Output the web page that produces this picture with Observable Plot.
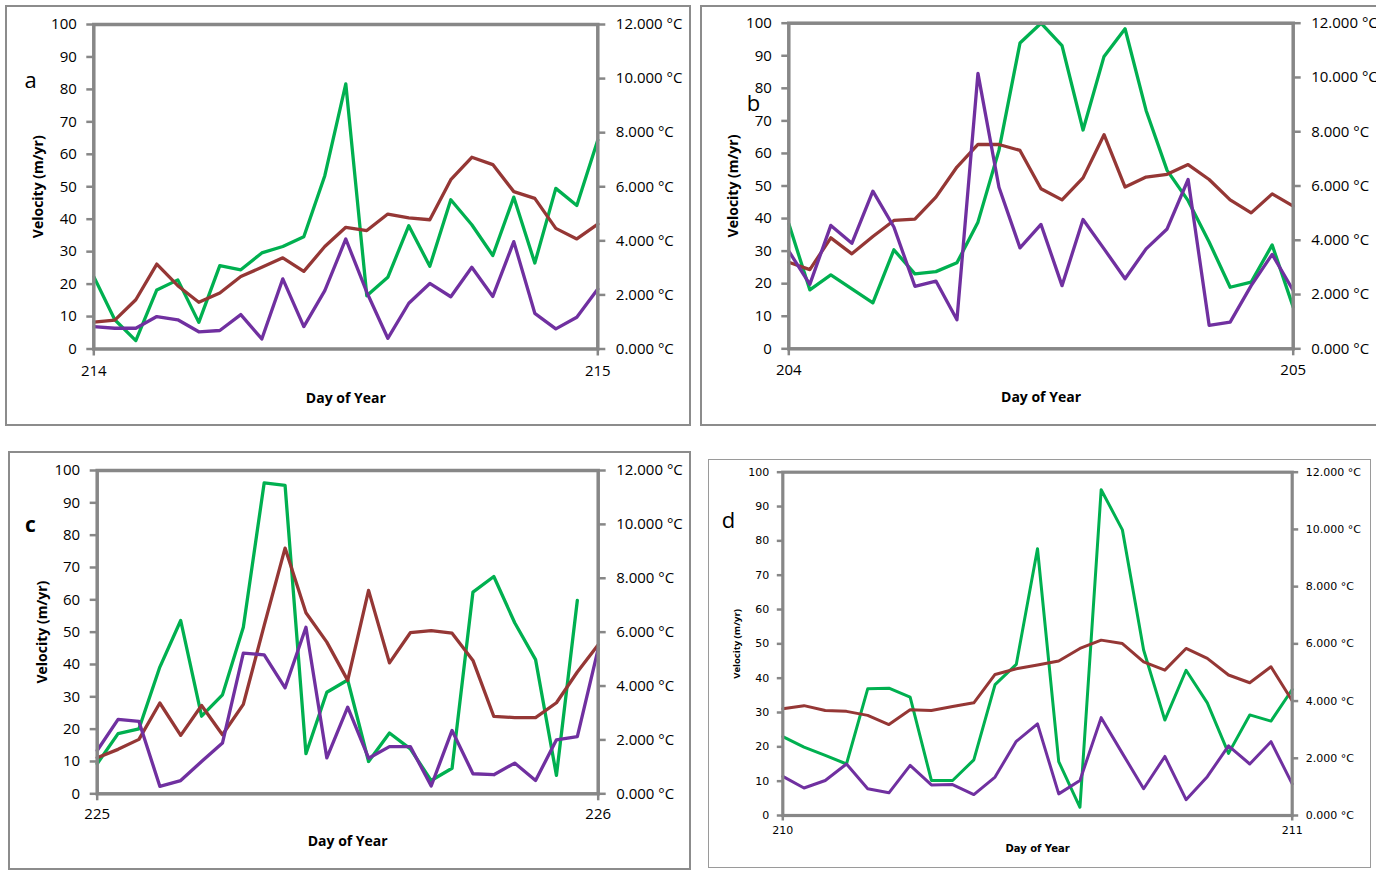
<!DOCTYPE html>
<html><head><meta charset="utf-8">
<script src="https://cdn.jsdelivr.net/npm/d3@7"></script>
<script src="https://cdn.jsdelivr.net/npm/@observablehq/plot@0.6"></script>
<style>
html,body{margin:0;padding:0;background:#fff;overflow:hidden;}
#page{position:relative;width:1376px;height:874px;overflow:hidden;background:#fff;}
.box{position:absolute;box-sizing:border-box;}
.plot{position:absolute;}
.plot svg{overflow:visible;max-width:none !important;}
</style></head><body><div id="page"></div>
<script>
// ---------- DATA ----------
// hourly samples across one day (hour 0..24)
const hours = d3.range(0, 25);
const panelLetters = ["a", "b", "c", "d"];
const startDays = [214, 204, 225, 210];
const velocityTicks = [0, 10, 20, 30, 40, 50, 60, 70, 80, 90, 100];
const tempTicks = [0, 2, 4, 6, 8, 10, 12]; // °C on right axis
const xLabel = "Day of Year";
const yLabel = "Velocity (m/yr)";

// panel a (day 214)
const greenA  = [22.3, 9, 2.6, 18.2, 21.3, 8.2, 25.7, 24.4, 29.6, 31.6, 34.6, 53.4, 81.7, 16.4, 22.1, 38.0, 25.5, 46.0, 38.3, 28.8, 46.8, 26.5, 49.5, 44.2, 64.4];
const purpleA = [6.9, 6.4, 6.4, 10.0, 9.0, 5.3, 5.7, 10.6, 3.1, 21.6, 6.9, 18.0, 33.9, 17.5, 3.3, 14.1, 20.2, 16.1, 25.2, 16.2, 33.1, 11.0, 6.2, 9.8, 18.5];
const tempA   = [0.99, 1.07, 1.82, 3.14, 2.34, 1.73, 2.07, 2.68, 3.02, 3.37, 2.87, 3.79, 4.50, 4.38, 4.99, 4.85, 4.78, 6.26, 7.09, 6.82, 5.82, 5.57, 4.46, 4.07, 4.62];

// panel b (day 204)
const greenB  = [38.4, 18.1, 22.7, 18.4, 14.1, 30.4, 23.0, 23.7, 26.4, 38.9, 61, 93.9, 100, 93.1, 67.2, 89.8, 98.3, 73.2, 54.8, 45.5, 32.8, 18.9, 20.5, 31.9, 12.8];
const purpleB = [30.0, 19.8, 37.9, 32.4, 48.4, 37.4, 19.2, 20.8, 8.9, 84.6, 49.6, 31.0, 38.2, 19.4, 39.7, 30.7, 21.5, 30.7, 36.8, 52.0, 7.2, 8.2, 19.4, 29.0, 17.9];
const tempB   = [3.19, 2.92, 4.09, 3.50, 4.14, 4.73, 4.78, 5.59, 6.70, 7.53, 7.53, 7.31, 5.90, 5.49, 6.30, 7.89, 5.96, 6.33, 6.43, 6.79, 6.24, 5.49, 5.01, 5.71, 5.26];

// panel c (day 225)
const greenC  = [9.3, 18.6, 20.1, 39.2, 53.6, 24.0, 30.6, 51.5, 96.2, 95.4, 12.4, 31.4, 35.2, 10.0, 18.8, 13.9, 4.1, 7.9, 62.4, 67.2, 52.9, 41.5, 5.7, 59.8, null];
const purpleC = [13.4, 23.0, 22.4, 2.3, 4.1, 10.0, 15.7, 43.5, 43.0, 32.8, 51.5, 11.1, 26.8, 11.0, 14.6, 14.6, 2.4, 19.6, 6.2, 5.9, 9.5, 4.1, 16.7, 17.7, 44.8];
const tempC   = [1.34, 1.65, 2.02, 3.37, 2.17, 3.28, 2.19, 3.32, 6.25, 9.12, 6.72, 5.63, 4.21, 7.55, 4.86, 5.98, 6.06, 5.96, 4.95, 2.87, 2.83, 2.83, 3.38, 4.52, 5.53];

// panel d (day 210)
const greenD  = [23.0, 19.9, 17.5, 15.0, 36.9, 37.1, 34.5, 10.2, 10.2, 16.2, 38.1, 44.0, 77.7, 15.7, 2.4, 94.9, 83.2, 48.2, 27.8, 42.3, 32.8, 18.1, 29.3, 27.5, 36.7];
const purpleD = [11.4, 8.0, 10.2, 15.0, 7.8, 6.6, 14.6, 8.9, 9.0, 6.1, 11.2, 21.6, 26.7, 6.3, 10.2, 28.5, 18.1, 7.8, 17.2, 4.6, 11.3, 20.3, 15.0, 21.5, 9.2];
const tempD   = [3.73, 3.84, 3.67, 3.64, 3.50, 3.18, 3.70, 3.67, 3.81, 3.94, 4.93, 5.13, 5.26, 5.40, 5.84, 6.13, 6.01, 5.37, 5.08, 5.84, 5.49, 4.91, 4.64, 5.20, 4.01];

const greens = [greenA, greenB, greenC, greenD];
const purples = [purpleA, purpleB, purpleC, purpleD];
const temps = [tempA, tempB, tempC, tempD];

// ---------- LAYOUT (page px) ----------
const layouts = [
  {box: [5, 5, 686, 421], bw: 2, bc: "#8c8c8c", px: [93.3, 597.3], py: [24, 348.5],
   font: "'Open Sans', sans-serif", fs: 15, lfs: 14, lfont: "'Open Sans', sans-serif",
   letter: [30, 80], lsize: 22, lweight: "normal", vx: 38, dayY: 398, xLabY: 373, tick: 7, lw: 3.3, fw: 3.5},
  {box: [700, 5, 690, 421], bw: 2, bc: "#8c8c8c", px: [788.3, 1292.7], py: [22.7, 348.3],
   font: "'Open Sans', sans-serif", fs: 15, lfs: 14, lfont: "'Open Sans', sans-serif",
   letter: [753, 103], lsize: 22, lweight: "normal", vx: 733, dayY: 397, xLabY: 372, tick: 7, lw: 3.3, fw: 3.5},
  {box: [8, 451, 683, 419], bw: 2, bc: "#8c8c8c", px: [96.7, 597.7], py: [470, 793.3],
   font: "'Open Sans', sans-serif", fs: 15, lfs: 14, lfont: "'Open Sans', sans-serif",
   letter: [30, 525], lsize: 21, lweight: "bold", vx: 42, dayY: 841.5, xLabY: 815.7, tick: 7, lw: 3.3, fw: 3.5},
  {box: [708, 459, 663, 409], bw: 1.5, bc: "#9a9a9a", px: [782.3, 1291.7], py: [471.7, 815],
   font: "'DejaVu Sans', sans-serif", fs: 11, lfs: 10, lfont: "'DejaVu Sans', sans-serif",
   letter: [728, 520], lsize: 22, lweight: "normal", vx: 736, dayY: 848.5, xLabY: 831.5, tick: 5.5, lw: 3, fw: 3.2}
];

const page = document.getElementById("page");
const axisGrey = "#878787";

panelLetters.forEach((letter, k) => {
  const L = layouts[k];
  const [bx, by, bw, bh] = L.box;
  const box = document.createElement("div");
  box.className = "box";
  Object.assign(box.style, {left: bx + "px", top: by + "px", width: bw + "px", height: bh + "px",
    border: L.bw + "px solid " + L.bc});
  page.appendChild(box);

  const day0 = startDays[k];
  const green = greens[k], purple = purples[k], temp = temps[k];
  const ml = L.px[0] - bx, mr = bw - (L.px[1] - bx), mt = L.py[0] - by, mb = bh - (L.py[1] - by);
  const toY = t => t * 100 / 12;
  const fromY = v => v * 12 / 100;

  const chart = Plot.plot({
    width: bw, height: bh,
    marginLeft: ml, marginRight: mr, marginTop: mt, marginBottom: mb,
    x: {domain: [day0, day0 + 1]},
    y: {domain: [0, 100]},
    style: {fontFamily: L.font, fontSize: L.fs + "px", background: "transparent", color: "#000", maxWidth: "none"},
    marks: [
      Plot.line(hours, {x: h => day0 + h / 24, y: (h, i) => green[i], stroke: "#00b050", strokeWidth: L.lw, strokeLinejoin: "round"}),
      Plot.line(hours, {x: h => day0 + h / 24, y: (h, i) => toY(temp[i]), stroke: "#953735", strokeWidth: L.lw, strokeLinejoin: "round"}),
      Plot.line(hours, {x: h => day0 + h / 24, y: (h, i) => purple[i], stroke: "#7030a0", strokeWidth: L.lw, strokeLinejoin: "round"}),
      Plot.frame({stroke: axisGrey, strokeWidth: L.fw}),
      Plot.axisY({ticks: velocityTicks, tickFormat: d => String(d), tickSize: L.tick, tickPadding: k === 3 ? 8 : 10,
        stroke: axisGrey, strokeWidth: 2.5, label: null, fontSize: L.fs}),
      Plot.axisY({anchor: "right", ticks: tempTicks.map(toY), tickFormat: d => fromY(d).toFixed(3) + " °C",
        tickSize: L.tick, tickPadding: k === 3 ? 8 : 11, stroke: axisGrey, strokeWidth: 2.5, label: null, fontSize: L.fs}),
      Plot.axisX({ticks: [day0, day0 + 1], tickFormat: d => String(d), tickSize: L.tick,
        tickPadding: (L.xLabY - L.py[1]) - L.tick - L.fs * 0.55, stroke: axisGrey, strokeWidth: 2.5, label: null, fontSize: L.fs}),
      Plot.text([letter], {frameAnchor: "top-left", dx: L.letter[0] - L.px[0], dy: L.letter[1] - L.py[0],
        fontSize: L.lsize, fontWeight: L.lweight, fontFamily: "'Open Sans', sans-serif", textAnchor: "middle", lineAnchor: "middle"}),
      Plot.text([yLabel], {frameAnchor: "left", dx: L.vx - L.px[0], rotate: -90, fontWeight: "bold",
        fontSize: k === 3 ? 9.5 : L.lfs, fontFamily: "'Open Sans', sans-serif", textAnchor: "middle", lineAnchor: "middle"}),
      Plot.text([xLabel], {frameAnchor: "bottom", dy: L.dayY - L.py[1], fontWeight: "bold",
        fontSize: L.lfs, fontFamily: L.lfont, textAnchor: "middle", lineAnchor: "middle"})
    ]
  });
  chart.style.maxWidth = "none";
  const wrap = document.createElement("div");
  wrap.className = "plot";
  Object.assign(wrap.style, {left: bx + "px", top: by + "px", width: bw + "px", height: bh + "px"});
  wrap.appendChild(chart);
  page.appendChild(wrap);
});
</script></body></html>
